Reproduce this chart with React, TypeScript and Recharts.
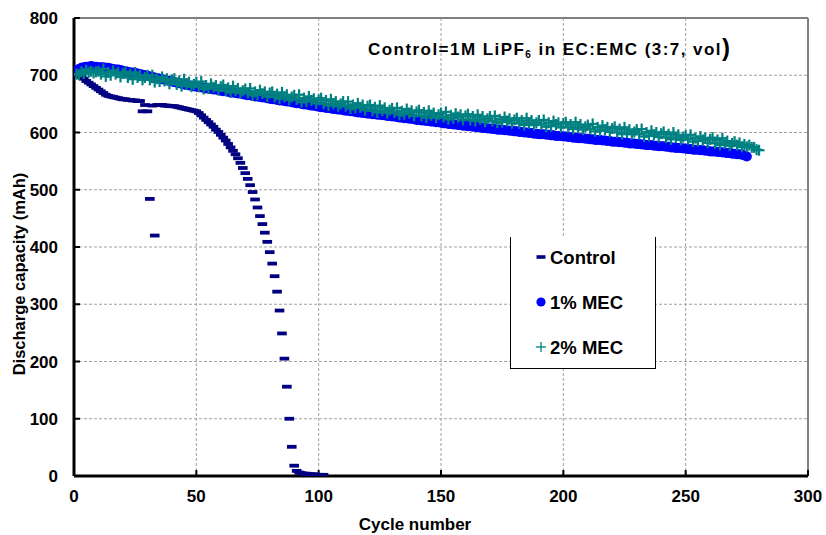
import React from 'react';
import { ScatterChart, Scatter, XAxis, YAxis, CartesianGrid, ReferenceLine, Legend } from 'recharts';

// Discharge capacity (mAh) per cycle, cycle numbers start at 1
const controlCapacity = [
  703, 700, 697, 694, 690, 687, 684, 681, 678, 675,
  672, 669, 666, 664, 663, 662, 661, 660, 659, 658,
  658, 657, 657, 656, 656, 655, 655, 637, 648, 637,
  484, 647, 420, 648, 648, 648, 647, 647, 646, 646,
  646, 645, 644, 643, 642, 641, 640, 639, 638, 637,
  634, 630, 626, 622, 618, 614, 610, 605, 601, 596,
  591, 586, 580, 574, 568, 562, 555, 547, 538, 529,
  519, 508, 496, 483, 469, 454, 440, 425, 409, 391,
  371, 349, 322, 289, 249, 205, 156, 100, 51, 18,
  9, 6, 5, 4, 4, 3, 3, 3, 2, 2,
  2, 2,
];

const mec1Capacity = [
  708, 711, 713, 714, 715, 715, 716, 715, 715, 714,
  714, 714, 713, 713, 712, 711, 710, 710, 709, 708,
  707, 706, 705, 705, 704, 703, 702, 701, 700, 699,
  698, 697, 696, 695, 694, 693, 692, 691, 690, 689,
  688, 687, 686, 685, 684, 683, 682, 682, 681, 680,
  679, 679, 678, 677, 677, 676, 675, 675, 674, 673,
  672, 672, 671, 670, 670, 669, 668, 668, 667, 666,
  665, 665, 664, 663, 663, 662, 661, 661, 660, 659,
  658, 658, 657, 656, 656, 655, 654, 654, 653, 652,
  651, 651, 650, 649, 649, 648, 647, 647, 646, 645,
  644, 644, 643, 643, 642, 641, 641, 640, 640, 639,
  638, 638, 637, 637, 636, 635, 635, 634, 634, 633,
  633, 632, 632, 631, 631, 630, 630, 629, 629, 628,
  628, 627, 626, 626, 625, 625, 624, 624, 623, 622,
  622, 621, 621, 620, 620, 619, 619, 618, 618, 617,
  616, 616, 615, 615, 614, 614, 613, 613, 612, 612,
  611, 611, 610, 610, 609, 609, 608, 608, 607, 607,
  606, 606, 605, 605, 605, 604, 604, 603, 603, 602,
  602, 601, 601, 600, 600, 599, 599, 598, 598, 597,
  597, 597, 596, 596, 595, 595, 594, 594, 594, 593,
  593, 592, 592, 591, 591, 590, 590, 590, 589, 589,
  588, 588, 587, 587, 587, 586, 586, 585, 585, 584,
  584, 584, 583, 583, 582, 582, 581, 581, 581, 580,
  580, 579, 579, 578, 578, 578, 577, 577, 576, 576,
  576, 575, 575, 574, 574, 573, 573, 573, 572, 572,
  571, 571, 570, 570, 570, 569, 569, 568, 568, 567,
  567, 567, 566, 566, 565, 565, 564, 564, 563, 563,
  562, 562, 561, 560, 558,
];

const mec2Capacity = [
  702, 701, 706, 703, 709, 705, 707, 704, 706, 707,
  702, 711, 698, 705, 700, 708, 702, 705, 697, 703,
  706, 696, 702, 693, 705, 696, 700, 692, 696, 700,
  692, 700, 688, 694, 689, 697, 690, 694, 685, 692,
  694, 684, 690, 681, 693, 684, 688, 680, 684, 688,
  680, 689, 676, 682, 677, 685, 679, 682, 674, 680,
  683, 673, 678, 670, 681, 673, 677, 669, 673, 676,
  669, 677, 665, 671, 666, 674, 668, 671, 663, 669,
  671, 662, 667, 659, 670, 662, 666, 657, 662, 665,
  658, 666, 653, 660, 654, 663, 656, 659, 651, 657,
  660, 650, 656, 647, 658, 650, 654, 646, 650, 654,
  646, 654, 642, 648, 643, 651, 644, 648, 639, 646,
  648, 638, 644, 635, 647, 638, 643, 634, 639, 642,
  635, 643, 631, 637, 632, 641, 634, 638, 629, 636,
  639, 629, 635, 626, 638, 630, 634, 626, 631, 634,
  627, 636, 623, 630, 625, 633, 627, 631, 622, 629,
  632, 622, 628, 620, 631, 623, 628, 619, 624, 628,
  620, 629, 617, 623, 618, 627, 620, 624, 616, 622,
  625, 616, 621, 613, 625, 616, 621, 613, 617, 621,
  614, 622, 610, 617, 611, 620, 614, 617, 609, 616,
  618, 609, 614, 606, 618, 609, 614, 605, 610, 613,
  606, 615, 602, 609, 603, 612, 605, 609, 601, 607,
  610, 600, 606, 597, 609, 600, 605, 597, 601, 605,
  597, 606, 593, 600, 594, 603, 596, 600, 592, 598,
  601, 591, 597, 588, 600, 591, 596, 587, 592, 595,
  588, 596, 584, 590, 585, 593, 587, 590, 582, 588,
  591, 581, 587, 578, 590, 581, 585, 577, 581, 584,
  578, 582, 575, 579, 575, 578, 574, 574, 570, 569,
];

const seriesNames = ['Control', '1% MEC', '2% MEC'];
const xTicks = [0, 50, 100, 150, 200, 250, 300];
const yTicks = [0, 100, 200, 300, 400, 500, 600, 700, 800];

const NAVY = '#000080';
const BLUE = '#0000FF';
const TEAL = '#008080';

const toPoints = (vals: number[]) => vals.map((v, i) => ({ cycle: i + 1, cap: v }));
const controlData = toPoints(controlCapacity);
const mec1Data = toPoints(mec1Capacity);
const mec2Data = toPoints(mec2Capacity);

const FONT = '"Liberation Sans", Arial, sans-serif';

const DashShape = (p: any) => (
  <rect x={p.cx - 4.8} y={p.cy - 1.9} width={9.6} height={3.8} fill={NAVY} />
);
const CircleShape = (p: any) => <circle cx={p.cx} cy={p.cy} r={5} fill={BLUE} />;
const PlusShape = (p: any) => (
  <g stroke={TEAL} strokeWidth={2.2}>
    <line x1={p.cx - 5.5} x2={p.cx + 5.5} y1={p.cy} y2={p.cy} />
    <line x1={p.cx} x2={p.cx} y1={p.cy - 5.5} y2={p.cy + 5.5} />
  </g>
);

const LegendBox = () => {
  const rows = [
    { name: seriesNames[0], y: 20, marker: <rect x={25.5} y={18.2} width={9} height={3.6} fill={NAVY} /> },
    { name: seriesNames[1], y: 65, marker: <circle cx={30} cy={65} r={4.6} fill={BLUE} /> },
    {
      name: seriesNames[2],
      y: 110,
      marker: (
        <g stroke={TEAL} strokeWidth={1.3}>
          <line x1={25} x2={35} y1={110} y2={110} />
          <line x1={30} x2={30} y1={105} y2={115} />
        </g>
      ),
    },
  ];
  return (
    <div
      style={{
        width: 146,
        height: 132,
        boxSizing: 'border-box',
        borderLeft: '1px solid #000',
        borderRight: '1px solid #000',
        borderBottom: '1px solid #000',
        background: '#fff',
      }}
    >
      <svg width={144} height={131} style={{ display: 'block' }}>
        {rows.map((r) => (
          <g key={r.name}>
            {r.marker}
            <text x={39} y={r.y + 6.5} fontFamily={FONT} fontWeight="bold" fontSize={18.5} fill="#000">
              {r.name}
            </text>
          </g>
        ))}
      </svg>
    </div>
  );
};

const tickStyle = { fontFamily: FONT, fontWeight: 'bold' as const, fontSize: 17, fill: '#000' };

export default function App() {
  return (
    <div style={{ position: 'absolute', left: 0, top: 0, width: 826, height: 535, background: '#fff' }}>
      <ScatterChart width={826} height={535} margin={{ top: 18, right: 18, bottom: 0, left: 0 }}>
        <CartesianGrid stroke="#a0a0a0" strokeDasharray="3 2" strokeWidth={1} />
        <XAxis
          type="number"
          dataKey="cycle"
          domain={[0, 300]}
          ticks={xTicks}
          height={59}
          tickSize={-6}
          tickMargin={20}
          axisLine={{ stroke: '#000', strokeWidth: 3 }}
          tickLine={{ stroke: '#000', strokeWidth: 2 }}
          tick={tickStyle}
          allowDataOverflow
          label={{
            content: (props: any) => {
              const vb = props.viewBox || { x: 74, y: 476, width: 734, height: 59 };
              return (
                <text
                  x={vb.x + vb.width / 2 - 26}
                  y={vb.y + 54}
                  textAnchor="middle"
                  fontFamily={FONT}
                  fontWeight="bold"
                  fontSize={17}
                  fill="#000"
                >
                  Cycle number
                </text>
              );
            },
          }}
        />
        <YAxis
          type="number"
          dataKey="cap"
          domain={[0, 800]}
          ticks={yTicks}
          width={74}
          tickSize={-6}
          tickMargin={22}
          axisLine={{ stroke: '#000', strokeWidth: 3 }}
          tickLine={{ stroke: '#000', strokeWidth: 2 }}
          tick={tickStyle}
          allowDataOverflow
          label={{
            content: () => (
              <text
                x={0}
                y={0}
                transform="translate(25, 274) rotate(-90)"
                textAnchor="middle"
                fontFamily={FONT}
                fontWeight="bold"
                fontSize={16.5}
                fill="#000"
              >
                Discharge capacity (mAh)
              </text>
            ),
          }}
        />
        <ReferenceLine y={800} stroke="#808080" strokeWidth={2} />
        <ReferenceLine x={300} stroke="#808080" strokeWidth={2} />
        <Scatter name={seriesNames[0]} data={controlData} shape={DashShape} isAnimationActive={false} />
        <Scatter name={seriesNames[1]} data={mec1Data} shape={CircleShape} isAnimationActive={false} />
        <Scatter name={seriesNames[2]} data={mec2Data} shape={PlusShape} isAnimationActive={false} />
        <Legend
          layout="horizontal"
          verticalAlign="middle"
          align="center"
          content={() => <LegendBox />}
          wrapperStyle={{ position: 'absolute', left: 510, top: 237, width: 146, height: 132 }}
        />
      </ScatterChart>
      <svg
        width={826}
        height={535}
        style={{ position: 'absolute', left: 0, top: 0, pointerEvents: 'none' }}
      >
        <text
          x={368}
          y={55}
          fontFamily={FONT}
          fontWeight="bold"
          fontSize={17}
          fill="#000"
          textLength={362}
          lengthAdjust="spacing"
        >
          Control=1M LiPF
          <tspan fontSize={10} dy={3}>6</tspan>
          <tspan dy={-3}> in EC:EMC (3:7, vol</tspan>
          <tspan fontSize={24} dy={1}>)</tspan>
        </text>
      </svg>
    </div>
  );
}
